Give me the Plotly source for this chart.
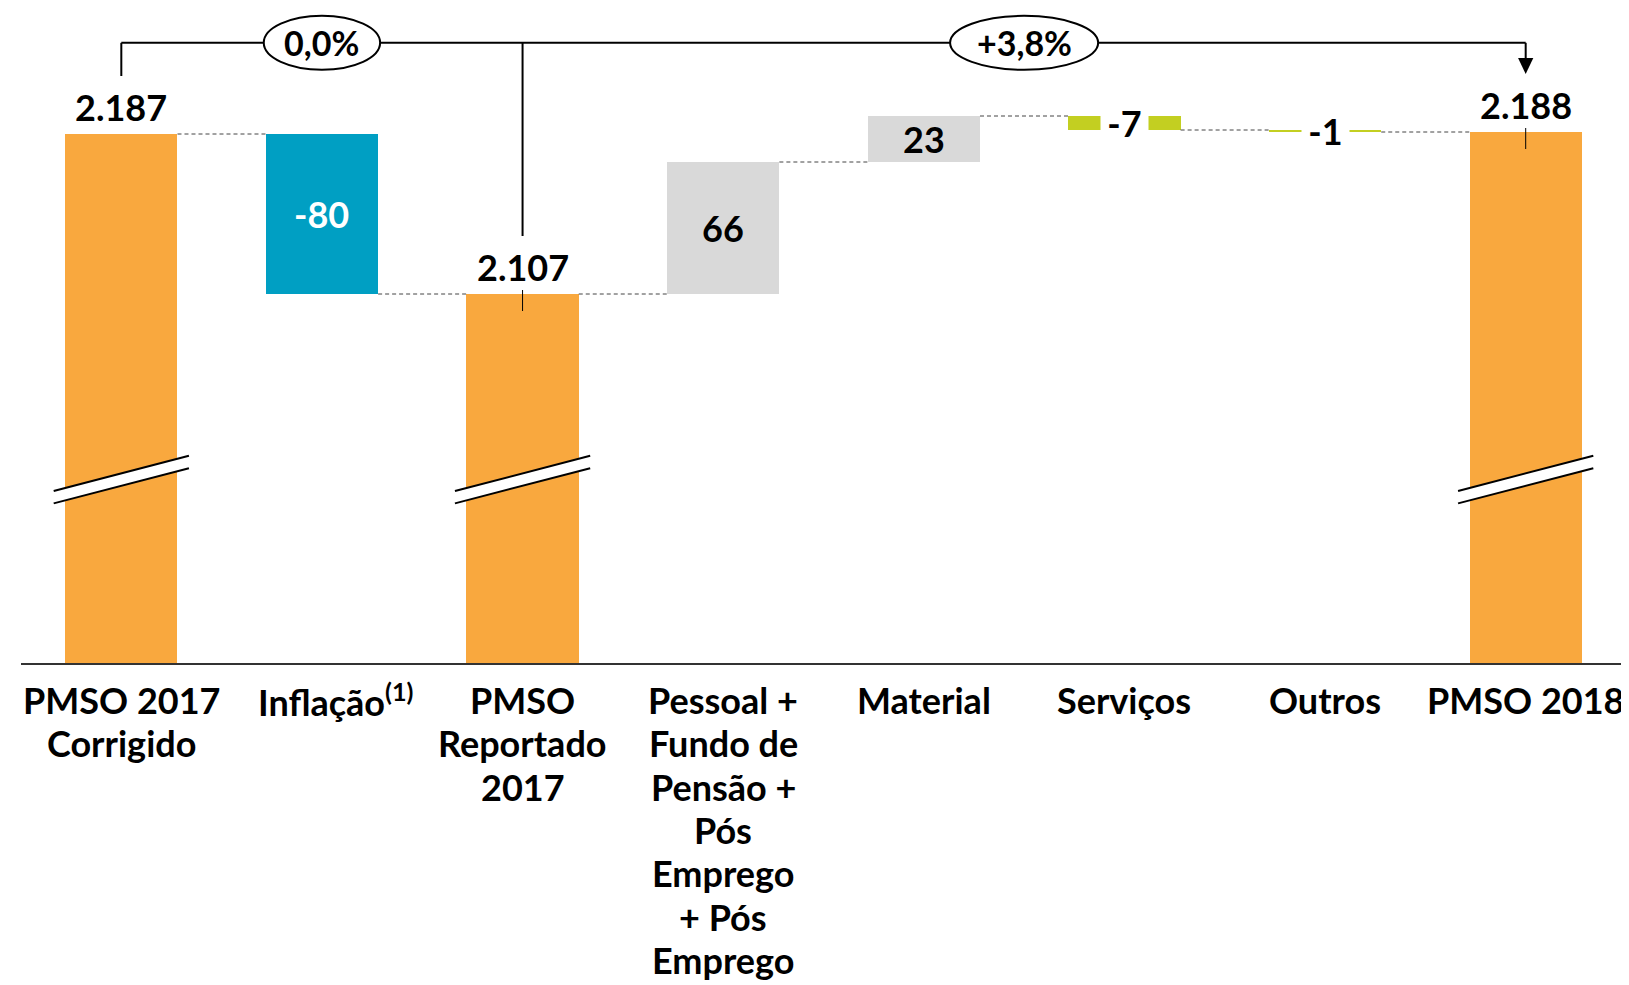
import plotly.graph_objects as go

# data
categories = [
    "PMSO 2017<br>Corrigido",
    "Inflação<sup>(1)</sup>",
    "PMSO<br>Reportado<br>2017",
    "Pessoal +<br>Fundo de<br>Pensão +<br>Pós<br>Emprego<br>+ Pós<br>Emprego",
    "Material",
    "Serviços",
    "Outros",
    "PMSO 2018",
]
values = [2187, -80, 2107, 66, 23, -7, -1, 2188]
is_total = [True, False, True, False, False, False, False, True]
growth_labels = ["0,0%", "+3,8%"]

ORANGE = "#F9A83E"
TEAL = "#009FC3"
GREY = "#D9D9D9"
GREEN = "#C3CF21"
bar_colors = [ORANGE, TEAL, ORANGE, GREY, GREY, GREEN, GREEN, ORANGE]

FONT = "Lato"
Y_MIN, Y_MAX = 1922.5, 2250  # broken value axis
BAR_W = 0.56


def fmt(v):
    return f"{v:,}".replace(",", ".")


x = list(range(len(values)))
bases, levels = [], []
running = 0
for v, tot in zip(values, is_total):
    if tot:
        bases.append(0)
        running = v
    else:
        bases.append(running)
        running += v
    levels.append(running)

fig = go.Figure()
fig.add_trace(go.Bar(x=x, y=values, base=bases, width=BAR_W,
                     marker=dict(color=bar_colors, line=dict(width=0)),
                     hoverinfo="skip"))

shapes = []
annotations = []

# dashed connectors between bars
for i in range(len(values) - 1):
    shapes.append(dict(type="line", xref="x", yref="y",
                       x0=i + BAR_W / 2, x1=i + 1 - BAR_W / 2,
                       y0=levels[i], y1=levels[i],
                       line=dict(color="#444444", width=1, dash="4px,3px")))

# axis-break marks on the total bars
brk_lo, brk_rise, brk_gap, brk_half = 2008.5, 17.6, 6.2, 0.337
for i, tot in enumerate(is_total):
    if not tot:
        continue
    xl, xr = i - brk_half, i + brk_half
    shapes.append(dict(type="path", xref="x", yref="y",
                       path=f"M {xl},{brk_lo} L {xr},{brk_lo + brk_rise} "
                            f"L {xr},{brk_lo + brk_rise - brk_gap} L {xl},{brk_lo - brk_gap} Z",
                       fillcolor="white", line=dict(width=0)))
    for off in (0, -brk_gap):
        shapes.append(dict(type="line", xref="x", yref="y",
                           x0=xl, x1=xr, y0=brk_lo + off, y1=brk_lo + brk_rise + off,
                           line=dict(color="black", width=2)))

# growth bracket on top
br_y = 2232.6
tip_y = 2217
line_k = dict(color="black", width=2)
shapes.append(dict(type="line", xref="x", yref="y", x0=0, x1=7, y0=br_y, y1=br_y, line=line_k))
shapes.append(dict(type="line", xref="x", yref="y", x0=0, x1=0, y0=br_y, y1=2216, line=line_k))
shapes.append(dict(type="line", xref="x", yref="y", x0=2, x1=2, y0=br_y, y1=2136, line=line_k))
shapes.append(dict(type="line", xref="x", yref="y", x0=7, x1=7, y0=br_y, y1=tip_y + 6, line=line_k))
shapes.append(dict(type="path", xref="x", yref="y",
                   path=f"M {7 - 0.038},{tip_y + 8} L {7 + 0.038},{tip_y + 8} L 7,{tip_y} Z",
                   fillcolor="black", line=dict(width=0)))
for i in (2, 7):
    shapes.append(dict(type="line", xref="x", yref="y", x0=i, x1=i,
                       y0=values[i] + 2, y1=values[i] - 8.5,
                       line=dict(color="black", width=1)))

for (cx, half_w), lab in zip([((0 + 2) / 2, 0.29), ((2 + 7) / 2, 0.369)], growth_labels):
    shapes.append(dict(type="circle", xref="x", yref="y",
                       x0=cx - half_w, x1=cx + half_w, y0=br_y - 13.5, y1=br_y + 13.5,
                       fillcolor="white", line=line_k))
    annotations.append(dict(x=cx, y=br_y, xref="x", yref="y", text=lab, showarrow=False,
                            font=dict(size=34, color="black", family=FONT, weight="bold")))

# value labels
for i, (v, tot) in enumerate(zip(values, is_total)):
    lab_font = dict(size=36, family=FONT, weight="bold", color="black")
    if tot:
        annotations.append(dict(x=i, y=v, xref="x", yref="y", text=fmt(v), yshift=27,
                                showarrow=False, font=lab_font))
    else:
        mid = bases[i] + v / 2
        ann = dict(x=i, y=mid, xref="x", yref="y", text=fmt(v), showarrow=False, font=lab_font)
        if bar_colors[i] == TEAL:
            ann["font"] = dict(lab_font, color="white")
        if abs(v) < 10:
            ann.update(bgcolor="white", width=47, borderpad=0)
        annotations.append(ann)

# category labels, one annotation per line
for i, lab in enumerate(categories):
    for k, part in enumerate(lab.split("<br>")):
        annotations.append(dict(x=i, y=0, xref="x", yref="paper", yanchor="middle",
                                yshift=-(37 + 43.3 * k), xshift=14 if "<sup>" in part else 0,
                                text=part, showarrow=False,
                                font=dict(size=36, family=FONT, weight="bold", color="black")))

# page body has an 8px margin, so the figure is 8px smaller than the window
fig.update_layout(
    width=1621, height=977,
    margin=dict(l=13, r=3, t=0, b=322),
    plot_bgcolor="white", paper_bgcolor="white",
    showlegend=False, bargap=0,
    font=dict(family=FONT),
    xaxis=dict(range=[-0.5, 7.5], showticklabels=False, showgrid=False, zeroline=False,
               showline=True, linecolor="#333333", linewidth=2, fixedrange=True),
    yaxis=dict(range=[Y_MIN, Y_MAX], visible=False, fixedrange=True),
    shapes=shapes,
    annotations=annotations,
)

fig.write_html("out.html")
